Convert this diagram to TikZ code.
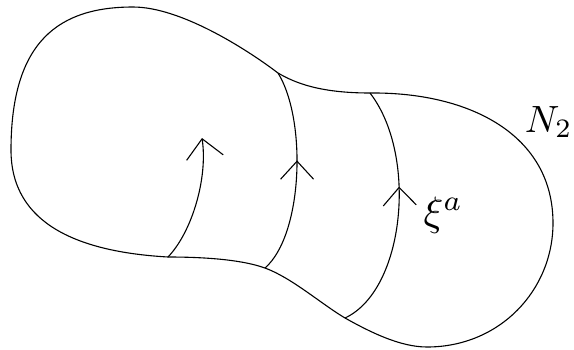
\documentclass[tikz,border=0pt]{standalone}
\usepackage{graphicx}
\usetikzlibrary{arrows.meta,decorations.markings}
\begin{document}
\begin{tikzpicture}[x=1pt,y=-1pt,line width=1.1pt,
  barb/.style={-{Straight Barb[length=19pt,width=37pt,line width=1.1pt]}},
  midbarb/.style={postaction={decorate},decoration={markings,
     mark=at position #1 with {\arrow{Straight Barb[length=18pt,width=33pt,line width=1.1pt]}}}},
  lbl/.style={inner sep=0pt, anchor=base west}]
\useasboundingbox (0,0) rectangle (574,349);
\coordinate (A) at (278,73);
\coordinate (B) at (370,93);
\coordinate (C) at (345,318);
\coordinate (D) at (265,268);
\coordinate (E) at (168,257);
\coordinate (T1) at (202,138);
% outline
\draw (11,150) .. controls (11,40) and (60,7) .. (133,7)
  .. controls (180,7) and (245,48) .. (A)
  .. controls (295,83) and (320,93) .. (B)
  .. controls (470,92) and (553,135) .. (553,223)
  .. controls (553,290) and (500,347) .. (427,347)
  .. controls (400,347) and (370,332) .. (C)
  .. controls (320,303) and (292,278) .. (D)
  .. controls (240,259) and (200,257) .. (E)
  .. controls (80,252) and (11,225) .. cycle;
% flow lines
\draw[barb] (E) .. controls (192,232) and (208,178) .. (T1);
\draw[midbarb=0.56] (D) .. controls (303,235) and (307,120) .. (A);
\draw[midbarb=0.6] (C) .. controls (405,290) and (418,155) .. (B);
\node[lbl] (xi) at (423,225) {\scalebox{4.1}{$\xi^a$}};
\node[lbl, anchor=base east] (N2) at (573,132) {\scalebox{3.8}{$N_2$}};
\end{tikzpicture}
\end{document}
